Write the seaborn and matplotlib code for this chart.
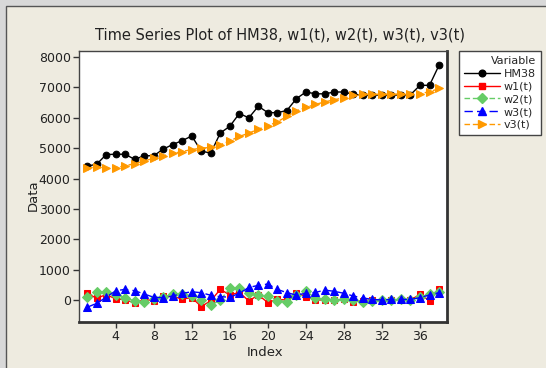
import numpy as np
import pandas as pd
import seaborn as sns
import matplotlib
matplotlib.use("Agg")
import matplotlib.pyplot as plt
from matplotlib.patches import Rectangle
from matplotlib.lines import Line2D

# Observation index
index = list(range(1, 39))

# Series values
hm38 = [4410, 4470, 4790, 4800, 4800, 4630, 4750, 4750, 4970, 5120,
        5250, 5400, 4900, 4840, 5500, 5720, 6140, 6000, 6380, 6170,
        6170, 6240, 6630, 6850, 6790, 6790, 6850, 6850, 6770, 6750,
        6750, 6750, 6750, 6750, 6760, 7070, 7070, 7730]
w1 = [220, 55, 180, 35, 10, -100, 15, -20, 140, 110,
      35, 75, -215, -25, 350, 165, 250, -30, 165, -85,
      20, 0, 240, 110, 0, 0, 0, 20, -55, -20,
      0, -20, 0, 0, 0, 185, -20, 370]
w2 = [110, 255, 250, 165, 80, -35, -75, 25, 110, 185,
      185, 140, 0, -175, 0, 380, 380, 240, 165, 130,
      -20, -55, 165, 305, 55, 20, 0, 20, 0, -55,
      -20, 0, 0, 20, 0, 110, 185, 270]
w3 = [-240, -110, 90, 305, 350, 305, 195, 90, 75, 130,
      220, 270, 240, 155, 110, 90, 220, 415, 480, 525,
      350, 240, 165, 220, 250, 325, 285, 220, 130, 65,
      20, 0, 20, 20, 20, 75, 165, 240]
v3 = [4350, 4370, 4340, 4360, 4420, 4490, 4580, 4670, 4750, 4825,
      4890, 4955, 5000, 5025, 5110, 5240, 5385, 5495, 5625, 5735,
      5870, 6045, 6230, 6340, 6440, 6525, 6595, 6660, 6740, 6775,
      6775, 6775, 6780, 6780, 6780, 6800, 6855, 6965]

names = ["HM38", "w1(t)", "w2(t)", "w3(t)", "v3(t)"]
series = [hm38, w1, w2, w3, v3]

df = pd.DataFrame({"Index": np.tile(index, len(names)),
                   "Data": np.concatenate(series),
                   "Variable": np.repeat(names, len(index))})

colors = {"HM38": "#000000", "w1(t)": "#FF0000", "w2(t)": "#66CC66",
          "w3(t)": "#0000FF", "v3(t)": "#FF9900"}
markers = {"HM38": "o", "w1(t)": "s", "w2(t)": "D", "w3(t)": "^", "v3(t)": ">"}
dashes = {"HM38": "", "w1(t)": "", "w2(t)": (4, 2), "w3(t)": (6, 3), "v3(t)": (4, 2)}
msizes = {"HM38": 4.8, "w1(t)": 4.6, "w2(t)": 4.6, "w3(t)": 5.6, "v3(t)": 5.6}

sns.set_theme(style="white")
plt.rcParams["font.family"] = ["DejaVu Sans"]

W, H = 546, 368
fig = plt.figure(figsize=(W / 100, H / 100), dpi=100, facecolor="#D8D8D8")
# beige panel with a dark border along the top and left
panel = Rectangle((6 / W, -0.1), 1.2, 1 - 6 / H + 0.1,
                  transform=fig.transFigure, facecolor="#EEEBE0",
                  edgecolor="#555555", linewidth=1.0, zorder=-5)
fig.patches.append(panel)

ax = fig.add_axes([79 / W, 1 - 322 / H, (447 - 79) / W, (322 - 51) / H])
ax.set_zorder(2)
ax.set_facecolor("white")

for name in names:
    sub = df[df["Variable"] == name]
    sns.lineplot(data=sub, x="Index", y="Data", ax=ax, color=colors[name],
                 marker=markers[name], markersize=msizes[name],
                 markeredgecolor=colors[name], linewidth=1.0,
                 legend=False, zorder=3)
    if dashes[name]:
        ax.lines[-1].set_dashes(dashes[name])

ax.set_xlim(0.14, 38.84)
ax.set_ylim(-725, 8200)
ax.set_xticks(range(4, 37, 4))
ax.set_yticks(range(0, 8001, 1000))
ax.tick_params(axis="both", which="both", length=4, width=1, color="#333333",
               labelsize=9, labelcolor="#222222", pad=2,
               bottom=True, left=True, top=False, right=False)
ax.set_xlabel("")
ax.set_ylabel("")
for side in ["left", "top"]:
    ax.spines[side].set_color("#444444")
    ax.spines[side].set_linewidth(1.0)
for side in ["right", "bottom"]:
    ax.spines[side].set_color("#333333")
    ax.spines[side].set_linewidth(2.0)

fig.text(280 / W, 1 - 35 / H, "Time Series Plot of HM38, w1(t), w2(t), w3(t), v3(t)",
         ha="center", va="center", fontsize=10.5, color="#222222")
fig.text(265 / W, 1 - 352 / H, "Index", ha="center", va="center",
         fontsize=9.5, color="#222222")
fig.text(33 / W, 1 - 195 / H, "Data", ha="center", va="center",
         fontsize=9.5, color="#222222", rotation=90)

handles = []
for name in names:
    h = Line2D([0], [0], color=colors[name], marker=markers[name],
               markersize=msizes[name], linewidth=1.0,
               markeredgecolor=colors[name])
    if dashes[name]:
        h.set_dashes(dashes[name])
    handles.append(h)

leg = fig.legend(handles, names, title="Variable", loc="upper left",
                 bbox_to_anchor=(459 / W, 1 - 51 / H), fontsize=8,
                 title_fontsize=8, frameon=True, fancybox=False,
                 edgecolor="#444444", framealpha=1, handlelength=3.2,
                 handletextpad=0.4, labelspacing=0.25, borderpad=0.45,
                 borderaxespad=0)
leg.get_frame().set_linewidth(1.0)
leg._legend_box.align = "right"

fig.savefig("out.png", dpi=100, facecolor=fig.get_facecolor())
